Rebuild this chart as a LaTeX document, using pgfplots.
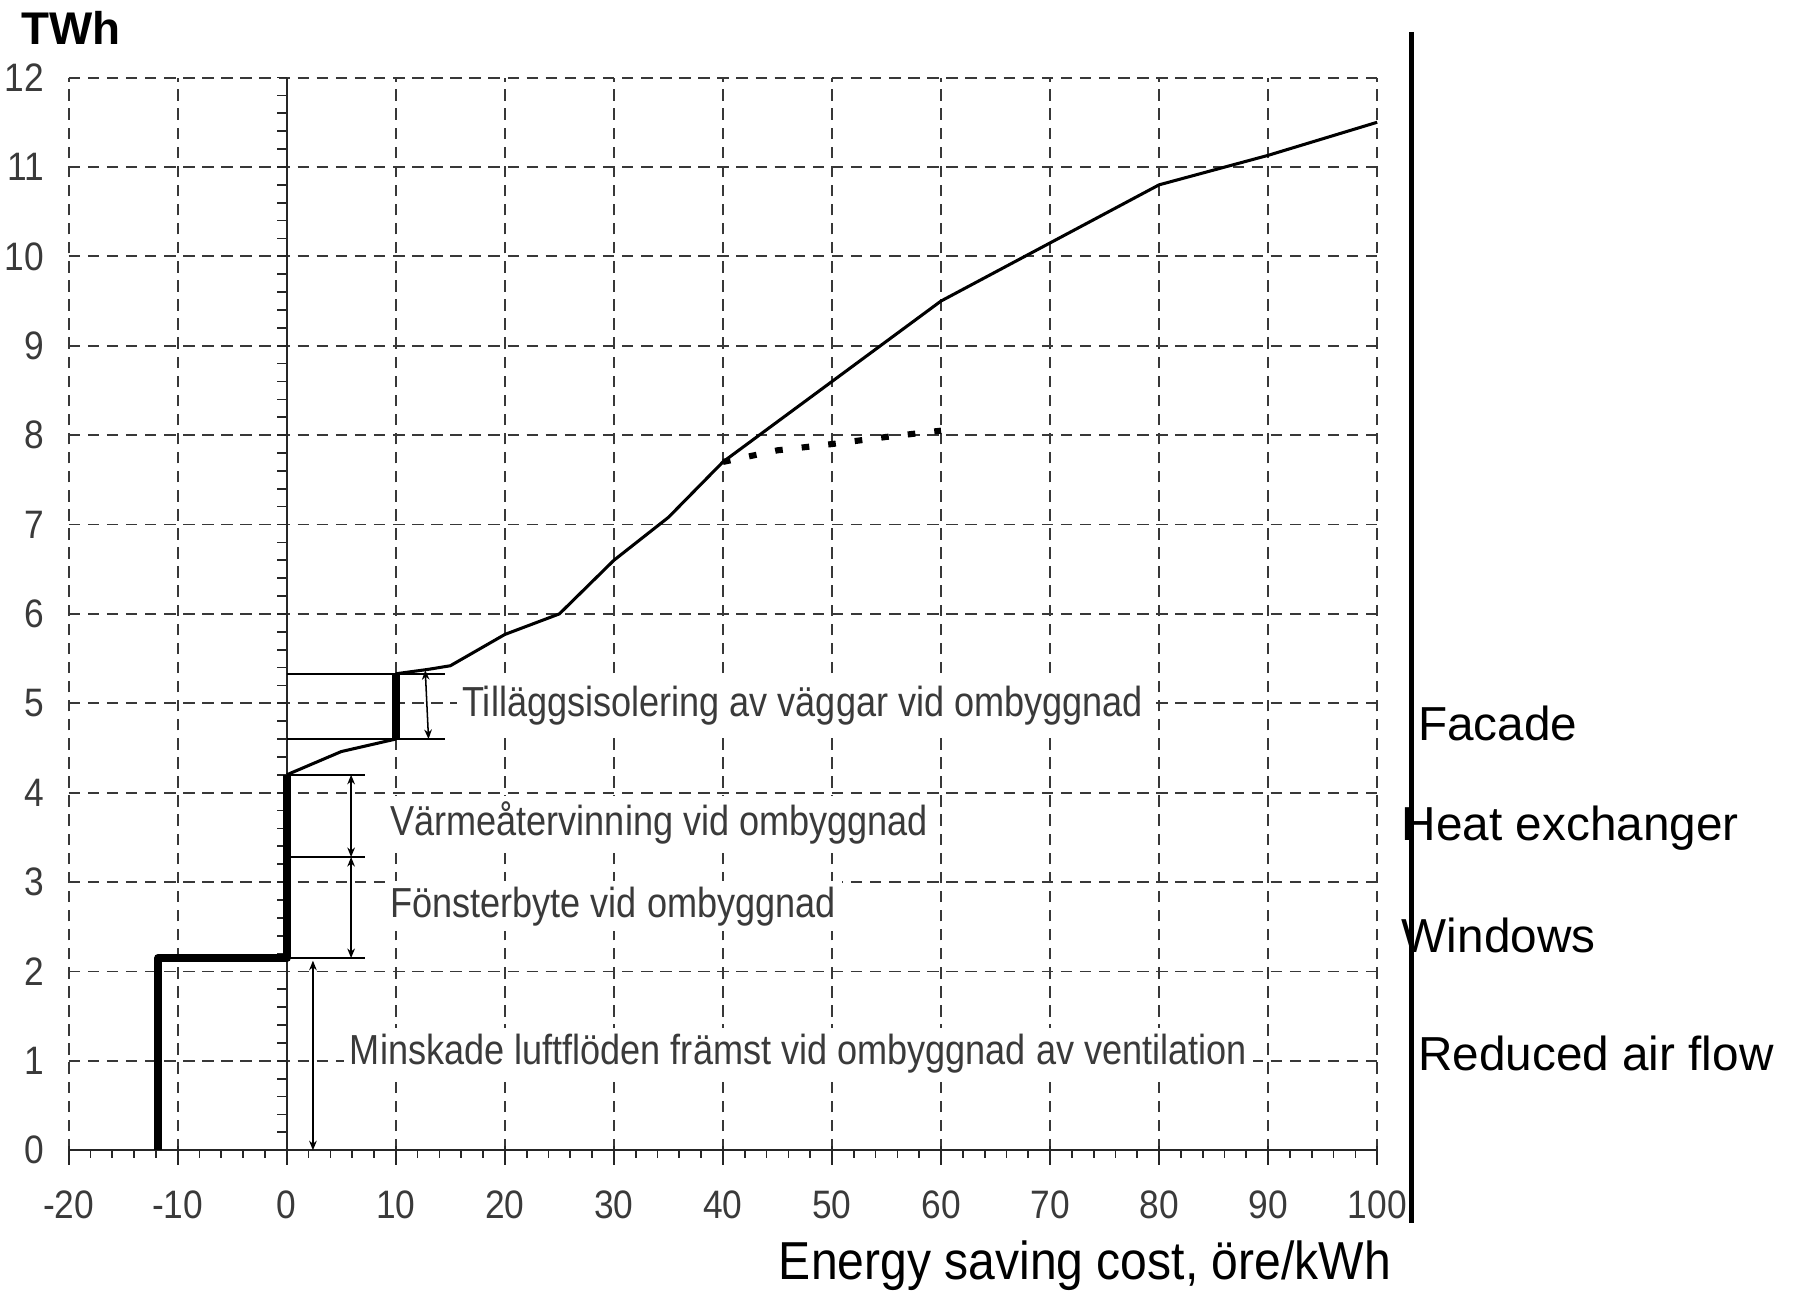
\documentclass[border=0pt]{standalone}
\usepackage{pgfplots}
\pgfplotsset{compat=1.18}
\usetikzlibrary{arrows.meta}
\usepackage{fontspec}
\setmainfont{Liberation Sans}
\newfontfamily\narrow[FakeStretch=0.86]{Liberation Sans}
\newfontfamily\ticknarrow[FakeStretch=0.89]{Liberation Sans}
\newfontfamily\labnarrow[FakeStretch=0.90]{Liberation Sans}
\definecolor{gridc}{HTML}{383838}
\definecolor{txtc}{HTML}{3A3A3A}
\begin{document}
\begin{tikzpicture}
\begin{axis}[
  name=ax, scale only axis, width=342.9pt, height=281.1pt,
  xmin=-20, xmax=100, ymin=0, ymax=12,
  xtick={-20,-10,...,100},
  xticklabels={-20,-10,0,10,20,30,40,50,60,70,80,90,100},
  ytick={0,1,...,12},
  yticklabels={0,1,2,3,4,5,6,7,8,9,10,11,12},
  grid=major,
  major grid style={gridc, line width=0.5pt, dash pattern=on 3pt off 2pt},
  axis line style={draw=none},
  major tick length=0pt, tick style={draw=none},
  xticklabel style={font=\ticknarrow\fontsize{10.4}{12}\selectfont, text=txtc, yshift=-7pt},
  yticklabel style={font=\ticknarrow\fontsize{10.4}{12}\selectfont, text=txtc, xshift=-3pt},
  clip=false,
]
% axis lines through origin
\draw[black!85, line width=0.6pt] (axis cs:-20,0) -- (axis cs:100,0);
\draw[black!85, line width=0.6pt] (axis cs:0,0) -- (axis cs:0,12);
\pgfplotsinvokeforeach{-20,-10,0,10,20,30,40,50,60,70,80,90,100}{
  \draw[black!85, line width=0.5pt] (axis cs:#1,0.05) -- (axis cs:#1,-0.17);
}
\pgfplotsinvokeforeach{-18,-16,-14,-12,-8,-6,-4,-2,2,4,6,8,12,14,16,18,22,24,26,28,32,34,36,38,42,44,46,48,52,54,56,58,62,64,66,68,72,74,76,78,82,84,86,88,92,94,96,98}{
  \draw[black!85, line width=0.45pt] (axis cs:#1,0) -- (axis cs:#1,-0.09);
}
\pgfplotsinvokeforeach{0.2,0.4,0.6,0.8,1,1.2,1.4,1.6,1.8,2,2.2,2.4,2.6,2.8,3,3.2,3.4,3.6,3.8,4,4.2,4.4,4.6,4.8,5,5.2,5.4,5.6,5.8,6,6.2,6.4,6.6,6.8,7,7.2,7.4,7.6,7.8,8,8.2,8.4,8.6,8.8,9,9.2,9.4,9.6,9.8,10,10.2,10.4,10.6,10.8,11,11.2,11.4,11.6,11.8,12}{
  \draw[black!85, line width=0.45pt] (axis cs:0,#1) -- (axis cs:-0.9,#1);
}

% annotation labels (white background)
\node[anchor=west, fill=white, inner sep=1.5pt, font=\narrow\fontsize{11}{13}\selectfont, text=txtc] at (axis cs:15.5,4.97) {Tilläggsisolering av väggar vid ombyggnad};
\node[anchor=west, fill=white, inner sep=1.5pt, font=\narrow\fontsize{11}{13}\selectfont, text=txtc] at (axis cs:8.9,3.66) {Värmeåtervinning vid ombyggnad};
\node[anchor=west, fill=white, inner sep=1.5pt, font=\narrow\fontsize{11}{13}\selectfont, text=txtc] at (axis cs:8.9,2.73) {Fönsterbyte vid ombyggnad};
\node[anchor=west, fill=white, inner sep=1.5pt, font=\narrow\fontsize{11}{13}\selectfont, text=txtc] at (axis cs:5.2,1.08) {Minskade luftflöden främst vid ombyggnad av ventilation};

% annotation brackets
\draw[black, line width=0.4pt] (axis cs:0,5.33) -- (axis cs:14.5,5.33);
\draw[black, line width=0.4pt] (axis cs:0,4.6) -- (axis cs:14.5,4.6);
\draw[black, line width=0.4pt] (axis cs:0,4.2) -- (axis cs:7.2,4.2);
\draw[black, line width=0.4pt] (axis cs:0,3.28) -- (axis cs:7.2,3.28);
\draw[black, line width=0.4pt] (axis cs:0,2.15) -- (axis cs:7.2,2.15);
\draw[black, line width=0.4pt, {Stealth[length=2.5pt,width=2pt]}-{Stealth[length=2.5pt,width=2pt]}] (axis cs:12.7,5.37) -- (axis cs:13.0,4.6);
\draw[black, line width=0.4pt, {Stealth[length=2.5pt,width=2pt]}-{Stealth[length=2.5pt,width=2pt]}] (axis cs:5.9,4.2) -- (axis cs:5.9,3.28);
\draw[black, line width=0.4pt, {Stealth[length=2.5pt,width=2pt]}-{Stealth[length=2.5pt,width=2pt]}] (axis cs:5.9,3.28) -- (axis cs:5.9,2.15);
\draw[black, line width=0.4pt, {Stealth[length=2.5pt,width=2pt]}-{Stealth[length=2.5pt,width=2pt]}] (axis cs:2.4,2.12) -- (axis cs:2.4,0);

% supply curve
\addplot[black, line width=2.1pt, line join=round] coordinates {(-11.8,0) (-11.8,2.15) (0,2.15) (0,4.2)};
\addplot[black, line width=0.8pt] coordinates {(0,4.2) (5,4.46) (10,4.6)};
\addplot[black, line width=2.1pt] coordinates {(10,4.6) (10,5.33)};
\addplot[black, line width=0.8pt, line join=round] coordinates {(10,5.33) (13,5.38) (15,5.42) (20,5.77) (25,6.0) (30,6.6) (35,7.08) (40,7.7) (50,8.6) (60,9.5) (70,10.15) (80,10.8) (90,11.13) (100,11.5)};
\addplot[black, line width=1.6pt, dash pattern=on 2pt off 5pt] coordinates {(40,7.7) (45,7.83) (50,7.9) (55,7.98) (60,8.05)};

% titles
\node[anchor=west, inner sep=0pt, font=\bfseries\fontsize{12}{14}\selectfont] at (axis cs:-24.4,12.55) {TWh};
\node[inner sep=0pt, font=\labnarrow\fontsize{14}{16}\selectfont] at (axis cs:73.2,-1.29) {Energy saving cost, öre/kWh};

% right-hand legend column
\draw[black, line width=1.2pt] (axis cs:103.15,12.51) -- (axis cs:103.15,-0.81);
\node[anchor=west, inner sep=0pt, font=\fontsize{12.5}{15}\selectfont] at (axis cs:103.7,4.78) {Facade};
\node[anchor=west, inner sep=0pt, font=\fontsize{12.5}{15}\selectfont] at (axis cs:102.2,3.60) {Heat exchanger};
\node[anchor=west, inner sep=0pt, font=\fontsize{12.5}{15}\selectfont] at (axis cs:102.2,2.40) {Windows};
\node[anchor=west, inner sep=0pt, font=\fontsize{12.5}{15}\selectfont] at (axis cs:103.7,1.08) {Reduced air flow};

\coordinate (bbsw) at (axis cs:-26.30,-1.575);
\coordinate (bbne) at (axis cs:138.32,12.868);
\end{axis}
\pgfresetboundingbox
\path[use as bounding box] (bbsw) rectangle (bbne);
\end{tikzpicture}
\end{document}
